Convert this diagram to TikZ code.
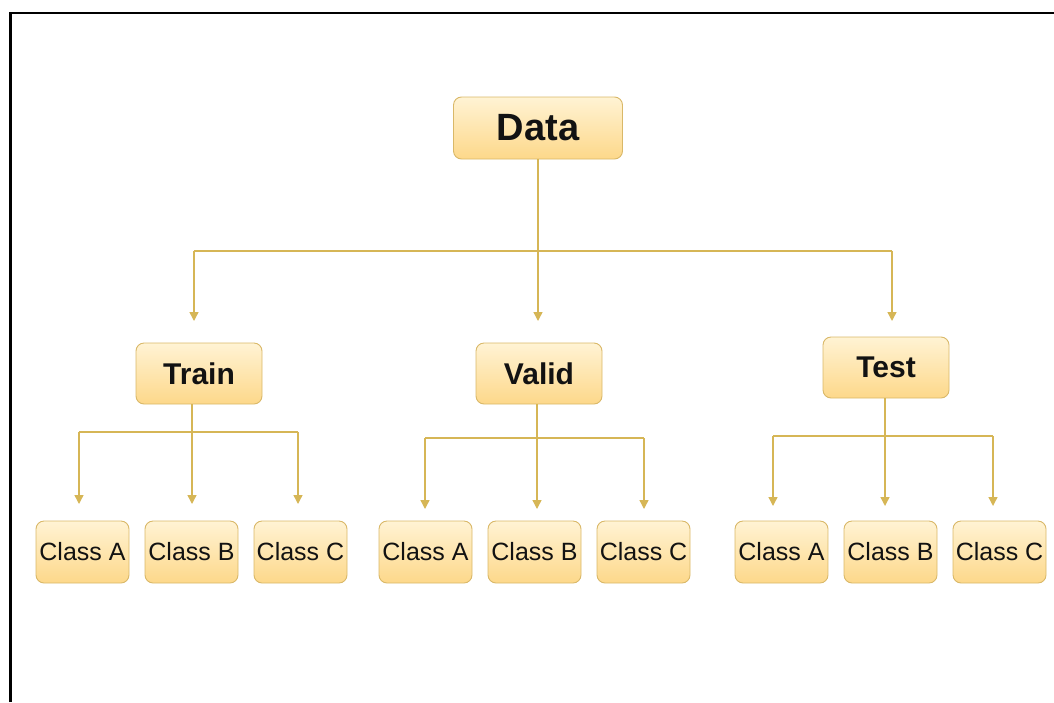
\documentclass[tikz,border=0pt]{standalone}
\usepackage{fontspec}
\setmainfont{Liberation Sans}
\usetikzlibrary{arrows.meta}
\definecolor{boxtop}{HTML}{FFF3D4}
\definecolor{boxbot}{HTML}{FDD88A}
\definecolor{boxline}{HTML}{D9B868}
\definecolor{wire}{HTML}{D6B656}
\tikzset{
  box/.style={draw=boxline, line width=0.9pt, rounded corners=8pt,
    top color=boxtop, bottom color=boxbot, inner sep=0pt, text=black!93},
  rootbox/.style={box, minimum width=169pt, minimum height=62pt,
    font=\fontsize{38}{40}\selectfont\bfseries},
  splitbox/.style={box, minimum width=126pt, minimum height=61pt,
    font=\fontsize{30}{32}\selectfont\bfseries},
  classbox/.style={box, minimum width=93pt, minimum height=62pt,
    font=\fontsize{25}{27}\selectfont},
  link/.style={draw=wire, line width=1.4pt},
  arrowlink/.style={link, -{Triangle[length=9pt,width=9pt]}},
}
\begin{document}
\begin{tikzpicture}[x=1pt, y=-1pt]
\useasboundingbox (0,0) rectangle (1054,702);
% outer frame
\draw[line width=2.6pt, black] (10.5,702) -- (10.5,13) -- (1054,13);

% top level
\node[rootbox] (data) at (538,128) {Data};

% second level
\node[splitbox] (train) at (199,373.5) {Train};
\node[splitbox] (valid) at (539,373.5) {Valid};
\node[splitbox] (test)  at (886,367.5) {Test};

% leaves
\node[classbox] (ta) at (82.5,552)  {Class A};
\node[classbox] (tb) at (191.5,552) {Class B};
\node[classbox] (tc) at (300.5,552) {Class C};
\node[classbox] (va) at (425.5,552) {Class A};
\node[classbox] (vb) at (534.5,552) {Class B};
\node[classbox] (vc) at (643.5,552) {Class C};
\node[classbox] (sa) at (781.5,552) {Class A};
\node[classbox] (sb) at (890.5,552) {Class B};
\node[classbox] (sc) at (999.5,552) {Class C};

% Data -> splits
\coordinate (dbus) at (538,251);
\coordinate (dl) at (194,251);
\coordinate (dr) at (892,251);
\coordinate (tipT) at (194,321);
\coordinate (tipV) at (538,321);
\coordinate (tipS) at (892,321);
\draw[link] (data.south) -- (dbus);
\draw[link] (dl) -- (dr);
\draw[arrowlink] (dl) -- (tipT);
\draw[arrowlink] (dbus) -- (tipV);
\draw[arrowlink] (dr) -- (tipS);

% Train -> classes
\coordinate (tj) at (192,432);
\coordinate (tl) at (79,432);
\coordinate (tr) at (298,432);
\draw[link] (train.south -| tj) -- (tj);
\draw[link] (tl) -- (tr);
\draw[arrowlink] (tl) -- (79,504);
\draw[arrowlink] (tj) -- (192,504);
\draw[arrowlink] (tr) -- (298,504);

% Valid -> classes
\coordinate (vj) at (537,438);
\coordinate (vl) at (425,438);
\coordinate (vr) at (644,438);
\draw[link] (valid.south -| vj) -- (vj);
\draw[link] (vl) -- (vr);
\draw[arrowlink] (vl) -- (425,509);
\draw[arrowlink] (vj) -- (537,509);
\draw[arrowlink] (vr) -- (644,509);

% Test -> classes
\coordinate (sj) at (885,436);
\coordinate (sl) at (773,436);
\coordinate (sr) at (993,436);
\draw[link] (test.south -| sj) -- (sj);
\draw[link] (sl) -- (sr);
\draw[arrowlink] (sl) -- (773,506);
\draw[arrowlink] (sj) -- (885,506);
\draw[arrowlink] (sr) -- (993,506);
\end{tikzpicture}
\end{document}
